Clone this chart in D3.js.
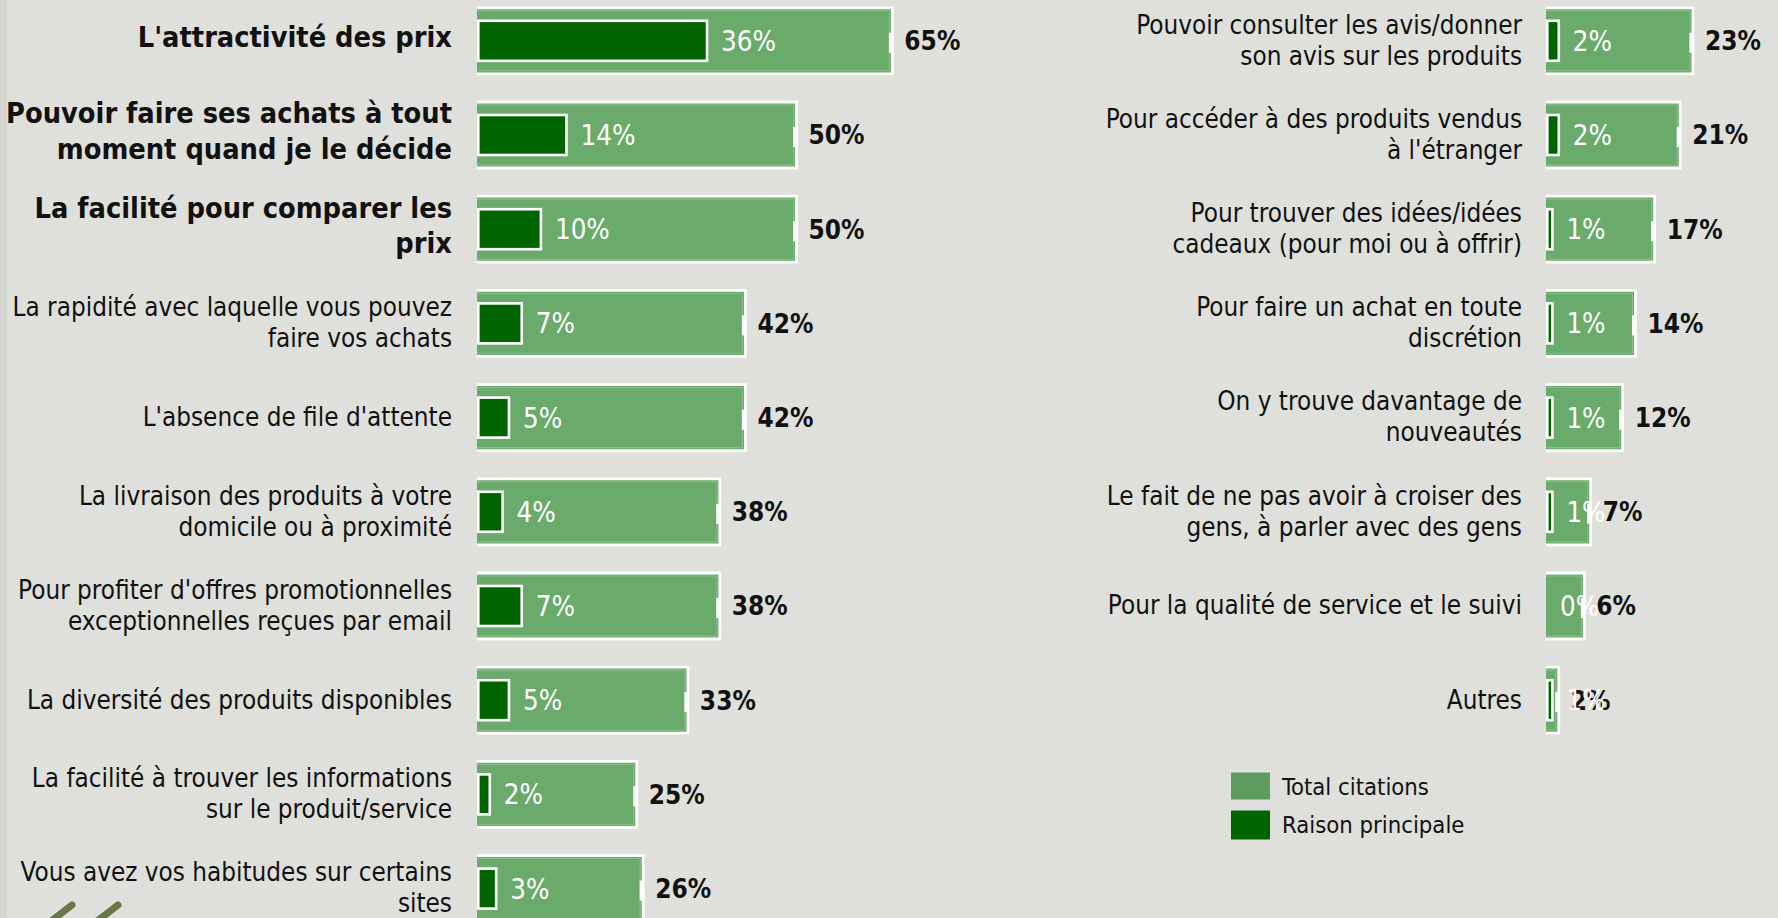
<!DOCTYPE html>
<html><head><meta charset="utf-8">
<script src="https://cdn.jsdelivr.net/npm/d3@7"></script>
<style>html,body{margin:0;padding:0;background:#dfe0db;overflow:hidden}svg{display:block}</style>
</head><body><svg id="c" width="1778" height="918"></svg>
<script>
// ---------------- data ----------------
const leftCategories = [
  "L'attractivité des prix",
  "Pouvoir faire ses achats à tout\nmoment quand je le décide",
  "La facilité pour comparer les\nprix",
  "La rapidité avec laquelle vous pouvez\nfaire vos achats",
  "L'absence de file d'attente",
  "La livraison des produits à votre\ndomicile ou à proximité",
  "Pour profiter d'offres promotionnelles\nexceptionnelles reçues par email",
  "La diversité des produits disponibles",
  "La facilité à trouver les informations\nsur le produit/service",
  "Vous avez vos habitudes sur certains\nsites"
];
const leftTotal = [65, 50, 50, 42, 42, 38, 38, 33, 25, 26];
const leftMain  = [36, 14, 10, 7, 5, 4, 7, 5, 2, 3];

const rightCategories = [
  "Pouvoir consulter les avis/donner\nson avis sur les produits",
  "Pour accéder à des produits vendus\nà l'étranger",
  "Pour trouver des idées/idées\ncadeaux (pour moi ou à offrir)",
  "Pour faire un achat en toute\ndiscrétion",
  "On y trouve davantage de\nnouveautés",
  "Le fait de ne pas avoir à croiser des\ngens, à parler avec des gens",
  "Pour la qualité de service et le suivi",
  "Autres"
];
const rightTotal = [23, 21, 17, 14, 12, 7, 6, 2];
const rightMain  = [2, 2, 1, 1, 1, 1, 0, 1];

const seriesNames = ["Total citations", "Raison principale"];
// ---------------------------------------

const W = 1778, H = 918;
const FONT = "'DejaVu Sans Condensed','DejaVu Sans',Tahoma,sans-serif";
const C_TOTAL = "#6aaa6a", C_MAIN = "#006400", C_LEG_TOTAL = "#5f9a5f";
const svg = d3.select("#c");

svg.append("rect").attr("width", W).attr("height", H).attr("fill", "#dfe0db");
svg.append("rect").attr("width", 7).attr("height", H).attr("fill", "#d2d4ce");

function fitSize(str, weight, target) {
  const t = svg.append("text").attr("font-family", FONT).attr("font-weight", weight)
    .attr("font-size", 100).text(str);
  const w = t.node().getComputedTextLength();
  t.remove();
  return 100 * target / w;
}
const fsReg  = (fitSize("La rapidité avec laquelle vous pouvez", 400, 437) +
                fitSize("Pour accéder à des produits vendus", 400, 419)) / 2;
const fsBold = fitSize("Pouvoir faire ses achats à tout", 700, 446);
const fsLeg  = fitSize(seriesNames[0], 400, 147);
const fsIn   = fitSize("36%", 400, 55);
const fsOut  = fitSize("65%", 700, 56);

// scales
const x = d3.scaleLinear().domain([0, 100]).range([0, 639]);
const y = d3.scalePoint().domain(d3.range(leftCategories.length)).range([40.8, 888.6]);
const barH = 66, mainH = 40;

function panel(cats, total, main, x0, labelRight, boldRows) {
  const g = svg.append("g");
  const rows = cats.map((c, i) => ({c, t: total[i], m: main[i], i}));

  // labels
  rows.forEach(d => {
    const bold = d.i < boldRows;
    const fs = bold ? fsBold : fsReg;
    const lh = fs * (bold ? 1.25 : 1.2);
    const lines = d.c.split("\n");
    const cy = y(d.i) - (bold ? 4 : 1);
    const t = g.append("text").attr("font-family", FONT).attr("font-size", fs)
      .attr("font-weight", bold ? 700 : 400).attr("fill", "#111").attr("text-anchor", "end");
    lines.forEach((ln, k) => {
      t.append("tspan").attr("x", labelRight)
        .attr("y", cy - (lines.length - 1) * lh / 2 + k * lh + fs * 0.36).text(ln);
    });
  });

  // total bars
  rows.forEach(d => {
    const cy = y(d.i), x1 = x0 + x(d.t);
    g.append("rect").attr("x", x0).attr("y", cy - barH / 2).attr("width", x(d.t)).attr("height", barH)
      .attr("fill", C_TOTAL);
    g.append("path")
      .attr("d", `M${x0},${cy - barH / 2}H${x1}V${cy + barH / 2}H${x0}`)
      .attr("fill", "none").attr("stroke", "#fff").attr("stroke-width", 2.8);
    g.append("path")
      .attr("d", `M${x0},${cy - barH / 2 + 3}H${x1 - 3}V${cy + barH / 2 - 3}H${x0}`)
      .attr("fill", "none").attr("stroke", "#8cc08c").attr("stroke-width", 1);
    g.append("rect").attr("x", x1 - 3.5).attr("y", cy - 8).attr("width", 3).attr("height", 20).attr("fill", "#fff");
  });
  // main bars
  rows.filter(d => d.m > 0).forEach(d => {
    const cy = y(d.i);
    g.append("rect").attr("x", x0 + 1.3).attr("y", cy - mainH / 2)
      .attr("width", Math.max(0, x(d.m) - 1.3)).attr("height", mainH)
      .attr("fill", C_MAIN).attr("stroke", "#fff").attr("stroke-width", 2.6);
  });
  // outside (total) labels
  rows.forEach(d => {
    g.append("text").attr("x", x0 + x(d.t) + 12).attr("y", y(d.i) + fsOut * 0.36)
      .attr("font-family", FONT).attr("font-size", fsOut).attr("font-weight", 700)
      .attr("fill", "#111").text(d3.format("d")(d.t) + "%");
  });
  // inside (main) labels
  rows.forEach(d => {
    g.append("text").attr("x", x0 + x(d.m) + 14).attr("y", y(d.i) + fsIn * 0.36)
      .attr("font-family", FONT).attr("font-size", fsIn).attr("font-weight", 400)
      .attr("fill", "#fff").text(d3.format("d")(d.m) + "%");
  });
}

panel(leftCategories, leftTotal, leftMain, 477, 452, 3);
panel(rightCategories, rightTotal, rightMain, 1546, 1522, 0);

// legend
const leg = svg.append("g");
const legColors = [C_LEG_TOTAL, C_MAIN];
const legY = [786.5, 824.5];
seriesNames.forEach((n, i) => {
  leg.append("rect").attr("x", 1231).attr("y", legY[i] - 14).attr("width", 39).attr("height", i ? 29 : 27)
    .attr("fill", legColors[i]);
  leg.append("text").attr("x", 1282).attr("y", legY[i] + fsLeg * 0.36)
    .attr("font-family", FONT).attr("font-size", fsLeg).attr("fill", "#111").text(n);
});

// logo fragment bottom-left
const logo = svg.append("g").attr("stroke", "#55652a").attr("stroke-width", 7)
  .attr("stroke-linecap", "round").attr("opacity", 0.85);
logo.append("line").attr("x1", 50).attr("y1", 922).attr("x2", 72).attr("y2", 905);
logo.append("line").attr("x1", 96).attr("y1", 922).attr("x2", 118).attr("y2", 905);
</script></body></html>
